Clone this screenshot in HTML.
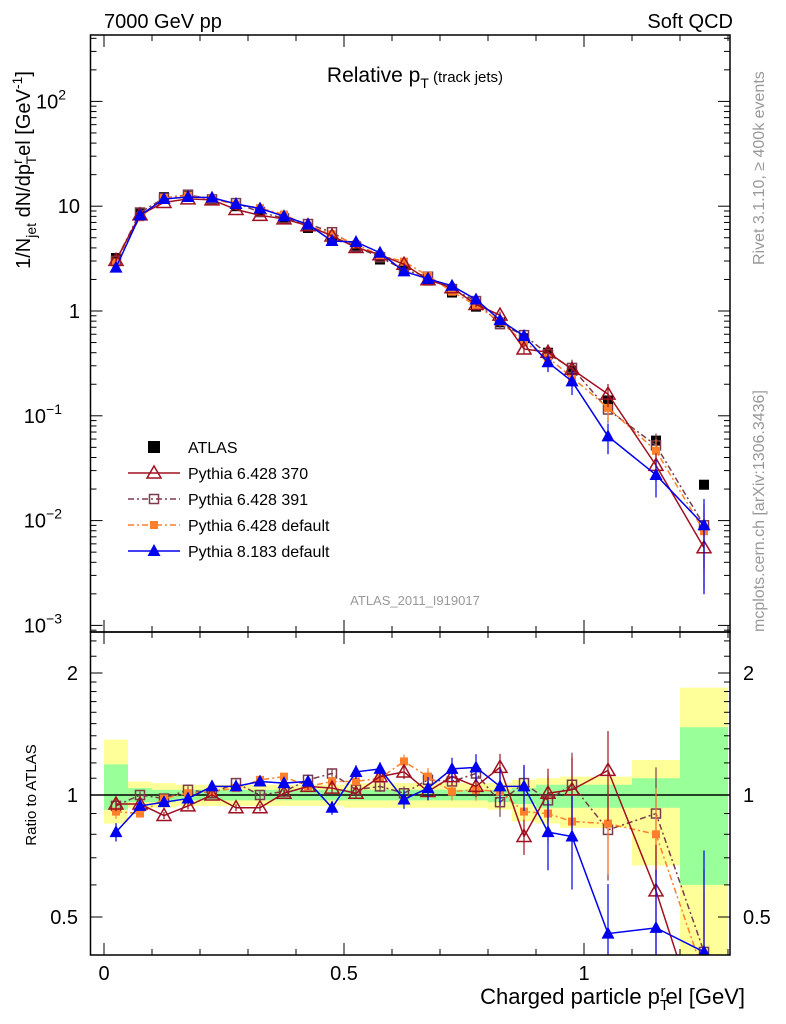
<!DOCTYPE html>
<html><head><meta charset="utf-8"><style>
html,body{margin:0;padding:0;background:#fff;overflow:hidden;width:786px;height:1024px;}
svg{display:block;}
svg text{font-family:"Liberation Sans",sans-serif;}
</style></head><body>
<svg id="c" width="786" height="1024" xmlns="http://www.w3.org/2000/svg">
<text x="104" y="28" font-size="20">7000 GeV pp</text>
<text x="733" y="28" font-size="20" text-anchor="end">Soft QCD</text>
<text x="415" y="82" font-size="21" text-anchor="middle">Relative p<tspan font-size="14" dy="6">T</tspan><tspan font-size="15" dy="-6"> (track jets)</tspan></text>
<text x="415" y="605" font-size="13" fill="#999" text-anchor="middle">ATLAS_2011_I919017</text>
<text transform="translate(764,265) rotate(-90)" font-size="16" fill="#999">Rivet 3.1.10, ≥ 400k events</text>
<text transform="translate(764,632) rotate(-90)" font-size="16" fill="#999">mcplots.cern.ch [arXiv:1306.3436]</text>
<text transform="translate(30,170) rotate(-90)" font-size="20" text-anchor="middle">1/N<tspan font-size="14" dy="6">jet</tspan><tspan dy="-6"> dN/dp</tspan><tspan font-size="14" dy="-8">r</tspan><tspan font-size="14" dx="-5" dy="14">T</tspan><tspan dy="-6">el [GeV</tspan><tspan font-size="14" dy="-8">-1</tspan><tspan dy="8">]</tspan></text>
<text transform="translate(36,795) rotate(-90)" font-size="15" text-anchor="middle">Ratio to ATLAS</text>
<text x="745" y="1004" font-size="22" text-anchor="end">Charged particle p<tspan font-size="15" dy="6">T</tspan><tspan font-size="15" dx="-8" dy="-14">r</tspan><tspan dy="8">el [GeV]</tspan></text>
<g id="g"></g>
</svg>
<script>
const xs=[0.025,0.075,0.125,0.175,0.225,0.275,0.325,0.375,0.425,0.475,0.525,0.575,0.625,0.675,0.725,0.775,0.825,0.875,0.925,0.975,1.05,1.15,1.25];
const binLo=[0,0.05,0.1,0.15,0.2,0.25,0.3,0.35,0.4,0.45,0.5,0.55,0.6,0.65,0.7,0.75,0.8,0.85,0.9,0.95,1.0,1.1,1.2];
const binHi=[0.05,0.1,0.15,0.2,0.25,0.3,0.35,0.4,0.45,0.5,0.55,0.6,0.65,0.7,0.75,0.8,0.85,0.9,0.95,1.0,1.1,1.2,1.3];
const atlas=[3.2,8.7,12.2,12.5,11.5,10,8.8,7.5,6.2,5.0,4.0,3.1,2.45,1.95,1.5,1.1,0.78,0.55,0.4,0.27,0.14,0.058,0.022];
const yelLo=[0.85,0.93,0.93,0.94,0.94,0.94,0.94,0.94,0.94,0.94,0.93,0.93,0.93,0.93,0.93,0.93,0.92,0.86,0.85,0.83,0.83,0.67,0.3];
const yelHi=[1.37,1.08,1.07,1.06,1.06,1.06,1.06,1.06,1.06,1.06,1.07,1.07,1.07,1.07,1.07,1.07,1.07,1.09,1.10,1.11,1.11,1.22,1.84];
const grnLo=[0.92,0.96,0.96,0.97,0.97,0.97,0.97,0.97,0.97,0.97,0.97,0.97,0.97,0.97,0.97,0.97,0.96,0.95,0.93,0.93,0.93,0.93,0.6];
const grnHi=[1.19,1.04,1.03,1.03,1.03,1.03,1.03,1.03,1.03,1.03,1.03,1.03,1.03,1.03,1.03,1.03,1.03,1.04,1.06,1.06,1.06,1.10,1.47];
const r370=[0.95,0.95,0.89,0.94,1.0,0.93,0.93,1.01,1.05,1.04,1.01,1.11,1.14,1.02,1.11,1.05,1.17,0.79,1.01,1.03,1.15,0.58,0.25];
const r391=[0.94,1.0,0.98,1.03,1.01,1.07,1.0,1.02,1.09,1.13,1.03,1.05,1.01,1.09,1.08,1.13,0.96,1.07,0.97,1.06,0.82,0.9,0.41];
const rDef=[0.91,0.90,0.98,1.01,1.02,1.04,1.09,1.11,1.05,1.08,1.08,1.10,1.21,1.11,1.02,1.03,1.02,0.91,0.90,0.86,0.85,0.80,0.36];
const rP8=[0.81,0.94,0.96,0.98,1.05,1.05,1.08,1.07,1.08,0.93,1.14,1.16,0.975,1.04,1.16,1.17,1.05,1.05,0.81,0.79,0.455,0.47,0.41];
const relErr=[0.04,0.02,0.02,0.02,0.02,0.02,0.02,0.02,0.02,0.03,0.03,0.03,0.04,0.05,0.05,0.06,0.08,0.1,0.15,0.2,0.25,0.3,0.6];

const X0=104,PX=480,L=90.5,R=730,MT=35,MB=632,RB=955;
const xp=v=>X0+v*PX;
const ym=v=>311-Math.log10(v)*104.8;
const yr=v=>795-Math.log2(v)*122;
const NS="http://www.w3.org/2000/svg",g=document.getElementById('g');
function el(t,a,p){const e=document.createElementNS(NS,t);for(const k in a)e.setAttribute(k,a[k]);(p||g).appendChild(e);return e;}
const clipM=el('clipPath',{id:'cm'});el('rect',{x:L,y:MT,width:R-L,height:MB-MT},clipM);
const clipR=el('clipPath',{id:'cr'});el('rect',{x:L,y:MB,width:R-L,height:RB-MB},clipR);
const gm=el('g',{'clip-path':'url(#cm)'});
const gr=el('g',{'clip-path':'url(#cr)'});

for(let i=0;i<xs.length;i++){
  const y=el('rect',{x:xp(binLo[i]),y:yr(yelHi[i]),width:xp(binHi[i])-xp(binLo[i]),height:yr(yelLo[i])-yr(yelHi[i]),fill:'#ffff99'},gr);
  
  const gg=el('rect',{x:xp(binLo[i]),y:yr(grnHi[i]),width:xp(binHi[i])-xp(binLo[i]),height:yr(grnLo[i])-yr(grnHi[i]),fill:'#99ff99'},gr);
  
}
const one=el('line',{x1:L,x2:R,y1:yr(1),y2:yr(1),stroke:'#000','stroke-width':1.5},gr);


for(let i=0;i<xs.length;i++){
  const s=el('rect',{x:xp(xs[i])-5,y:ym(atlas[i])-5,width:10,height:10,fill:'#000'},gm);
  
}
const series=[
 {r:r391,c:'#7a3b4b',dash:'6,3,2,3',m:'osq',name:'pythia-6428-391'},
 {r:rDef,c:'#ff7f2a',dash:'6,3,2,3',m:'fsq',name:'pythia-6428-default'},
 {r:r370,c:'#a01020',dash:'',m:'otri',name:'pythia-6428-370'},
 {r:rP8,c:'#0000ee',dash:'',m:'ftri',name:'pythia-8183-default'}];
function marker(p,x,y,m,c){
  let e;
  if(m==='osq')e=el('rect',{x:x-4.5,y:y-4.5,width:9,height:9,fill:'none',stroke:c,'stroke-width':1.5},p);
  else if(m==='fsq')e=el('rect',{x:x-4,y:y-4,width:8,height:8,fill:c},p);
  else if(m==='otri')e=el('polygon',{points:`${x},${y-7} ${x-7},${y+5} ${x+7},${y+5}`,fill:'none',stroke:c,'stroke-width':1.5},p);
  else e=el('polygon',{points:`${x},${y-7} ${x-6.5},${y+5} ${x+6.5},${y+5}`,fill:c},p);
  return e;
}
for(const s of series){
  for(const [p,fy,val] of [[gm,ym,i=>atlas[i]*s.r[i]],[gr,yr,i=>s.r[i]]]){
    const pts=xs.map((x,i)=>xp(x)+','+fy(val(i))).join(' ');
    const l=el('polyline',{points:pts,fill:'none',stroke:s.c,'stroke-width':1.5,'stroke-dasharray':s.dash},p);
    
    for(let i=0;i<xs.length;i++){
      const v=val(i),e=relErr[i]*(s.m==='ftri'?1.3:1);
      const b=el('line',{x1:xp(xs[i]),x2:xp(xs[i]),y1:fy(v*(1+e)),y2:fy(Math.max(v*(1-e),1e-4)),stroke:s.c,'stroke-width':1.2},p);
      
      const mk=marker(p,xp(xs[i]),fy(v),s.m,s.c);
      
    }
  }
}
for(const [t,b,n] of [[MT,MB,'main-frame'],[MB,RB,'ratio-frame']]){
  const f=el('rect',{x:L,y:t,width:R-L,height:b-t,fill:'none',stroke:'#000','stroke-width':1.5});
  
}
for(let k=0;k<=13;k++){
  const v=k/10,x=xp(v),big=(k%5===0),len=big?12:6;
  for(const [t,b] of [[MT,MB],[MB,RB]]){
    el('line',{x1:x,x2:x,y1:b,y2:b-len,stroke:'#000'});
    el('line',{x1:x,x2:x,y1:t,y2:t+len,stroke:'#000'});
  }
  if(big){const tl=el('text',{x:x,y:980,'font-size':20,'text-anchor':'middle'});tl.textContent=(v===0.5?'0.5':String(v));
    }
}
const decLabels=[['10','2'],['10',''],['1',''],['10','−1'],['10','−2'],['10','−3']];
const decVals=[100,10,1,0.1,0.01,0.001];
for(let d=-4;d<=2;d++){
  for(let k=1;k<=9;k++){
    const v=k*Math.pow(10,d),y=ym(v);if(y<MT||y>MB)continue;
    const len=k===1?12:6;
    el('line',{x1:L,x2:L+len,y1:y,y2:y,stroke:'#000'});el('line',{x1:R,x2:R-len,y1:y,y2:y,stroke:'#000'});
  }
}
decVals.forEach((v,i)=>{
  const t=el('text',{x:80,y:ym(v)+7,'font-size':20,'text-anchor':'end'});
  
  t.textContent=decLabels[i][0];
  if(decLabels[i][1]){t.setAttribute('x',decLabels[i][1].length>1?62:66);const s=document.createElementNS(NS,'tspan');s.setAttribute('font-size',14);s.setAttribute('dy',-9);s.textContent=decLabels[i][1];t.appendChild(s);}
});
const rTicks=[0.4,0.5,0.6,0.7,0.8,0.9,1,1.1,1.2,1.3,1.4,1.5,1.6,1.7,1.8,1.9,2,2.2,2.4];
rTicks.forEach(v=>{const y=yr(v);if(y<MB||y>RB)return;const big=[0.5,1,2].includes(v),len=big?12:6;
  el('line',{x1:L,x2:L+len,y1:y,y2:y,stroke:'#000'});el('line',{x1:R,x2:R-len,y1:y,y2:y,stroke:'#000'});});
const rLabels=['0.5','1','2'],rLabelVals=[0.5,1,2];
rLabelVals.forEach((v,i)=>{
  for(const [x,a] of [[78,'end'],[743,'start']]){
    const t=el('text',{x:x,y:yr(v)+7,'font-size':20,'text-anchor':a});t.textContent=rLabels[i];
    
  }
});
const legNames=['ATLAS','Pythia 6.428 370','Pythia 6.428 391','Pythia 6.428 default','Pythia 8.183 default'];
const legStyle=[{m:'atlas',c:'#000'},{m:'otri',c:'#a01020',dash:''},{m:'osq',c:'#7a3b4b',dash:'6,3,2,3'},{m:'fsq',c:'#ff7f2a',dash:'6,3,2,3'},{m:'ftri',c:'#0000ee',dash:''}];
legNames.forEach((n,i)=>{
  const y=447+i*26,lg=el('g',{});
  
  if(legStyle[i].m==='atlas')el('rect',{x:148,y:y-6,width:12,height:12,fill:'#000'},lg);
  else{el('line',{x1:128,x2:180,y1:y,y2:y,stroke:legStyle[i].c,'stroke-width':1.5,'stroke-dasharray':legStyle[i].dash},lg);marker(lg,154,y,legStyle[i].m,legStyle[i].c);}
  const t=el('text',{x:188,y:y+6,'font-size':16},lg);t.textContent=n;
});
</script>
</body></html>
